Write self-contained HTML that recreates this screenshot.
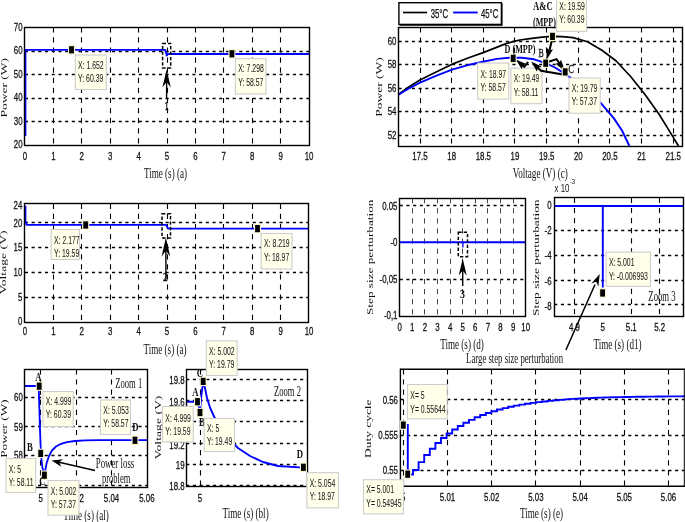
<!DOCTYPE html><html><head><meta charset="utf-8"><style>html,body{margin:0;padding:0;background:#fff;overflow:hidden}svg{display:block;filter:blur(0.3px)}</style></head><body>
<svg width="685" height="522" viewBox="0 0 685 522">
<rect width="685" height="522" fill="#fff"/>
<line x1="24.9" y1="121.5" x2="309.2" y2="121.5" stroke="#000" stroke-width="1.3" stroke-dasharray="3.1,3.6" stroke-linecap="butt"/>
<line x1="24.9" y1="98.5" x2="309.2" y2="98.5" stroke="#000" stroke-width="1.3" stroke-dasharray="3.1,3.6" stroke-linecap="butt"/>
<line x1="24.9" y1="74.5" x2="309.2" y2="74.5" stroke="#000" stroke-width="1.3" stroke-dasharray="3.1,3.6" stroke-linecap="butt"/>
<line x1="24.9" y1="51.5" x2="309.2" y2="51.5" stroke="#000" stroke-width="1.3" stroke-dasharray="3.1,3.6" stroke-linecap="butt"/>
<line x1="53.5" y1="27.2" x2="53.5" y2="145.7" stroke="#000" stroke-width="1.1" stroke-dasharray="5.2,4.9" stroke-linecap="butt"/>
<line x1="81.5" y1="27.2" x2="81.5" y2="145.7" stroke="#000" stroke-width="1.1" stroke-dasharray="5.2,4.9" stroke-linecap="butt"/>
<line x1="110.5" y1="27.2" x2="110.5" y2="145.7" stroke="#000" stroke-width="1.1" stroke-dasharray="5.2,4.9" stroke-linecap="butt"/>
<line x1="138.5" y1="27.2" x2="138.5" y2="145.7" stroke="#000" stroke-width="1.1" stroke-dasharray="5.2,4.9" stroke-linecap="butt"/>
<line x1="167.5" y1="27.2" x2="167.5" y2="145.7" stroke="#000" stroke-width="1.1" stroke-dasharray="5.2,4.9" stroke-linecap="butt"/>
<line x1="195.5" y1="27.2" x2="195.5" y2="145.7" stroke="#000" stroke-width="1.1" stroke-dasharray="5.2,4.9" stroke-linecap="butt"/>
<line x1="223.5" y1="27.2" x2="223.5" y2="145.7" stroke="#000" stroke-width="1.1" stroke-dasharray="5.2,4.9" stroke-linecap="butt"/>
<line x1="252.5" y1="27.2" x2="252.5" y2="145.7" stroke="#000" stroke-width="1.1" stroke-dasharray="5.2,4.9" stroke-linecap="butt"/>
<line x1="280.5" y1="27.2" x2="280.5" y2="145.7" stroke="#000" stroke-width="1.1" stroke-dasharray="5.2,4.9" stroke-linecap="butt"/>
<polyline points="25.4,136 25.4,49.9 165.2,49.9 166.8,55.6 167.8,54 309.2,54" fill="none" stroke="#0000ff" stroke-width="1.9" stroke-linejoin="round"/>
<rect x="24.5" y="27.5" width="285" height="118" fill="none" stroke="#000" stroke-width="1.4"/>
<text x="22.6" y="148.19" font-family='"Liberation Sans", sans-serif' font-size="11.8" font-weight="normal" text-anchor="end" fill="#111" stroke="#111" stroke-width="0.3" textLength="8.75" lengthAdjust="spacingAndGlyphs">20</text>
<text x="22.6" y="124.69" font-family='"Liberation Sans", sans-serif' font-size="11.8" font-weight="normal" text-anchor="end" fill="#111" stroke="#111" stroke-width="0.3" textLength="8.75" lengthAdjust="spacingAndGlyphs">30</text>
<text x="22.6" y="101.19" font-family='"Liberation Sans", sans-serif' font-size="11.8" font-weight="normal" text-anchor="end" fill="#111" stroke="#111" stroke-width="0.3" textLength="8.75" lengthAdjust="spacingAndGlyphs">40</text>
<text x="22.6" y="77.69" font-family='"Liberation Sans", sans-serif' font-size="11.8" font-weight="normal" text-anchor="end" fill="#111" stroke="#111" stroke-width="0.3" textLength="8.75" lengthAdjust="spacingAndGlyphs">50</text>
<text x="22.6" y="54.19" font-family='"Liberation Sans", sans-serif' font-size="11.8" font-weight="normal" text-anchor="end" fill="#111" stroke="#111" stroke-width="0.3" textLength="8.75" lengthAdjust="spacingAndGlyphs">60</text>
<text x="22.6" y="30.69" font-family='"Liberation Sans", sans-serif' font-size="11.8" font-weight="normal" text-anchor="end" fill="#111" stroke="#111" stroke-width="0.3" textLength="8.75" lengthAdjust="spacingAndGlyphs">70</text>
<text x="25" y="160.39" font-family='"Liberation Sans", sans-serif' font-size="11.8" font-weight="normal" text-anchor="middle" fill="#111" stroke="#111" stroke-width="0.3" textLength="4.38" lengthAdjust="spacingAndGlyphs">0</text>
<text x="53.4" y="160.39" font-family='"Liberation Sans", sans-serif' font-size="11.8" font-weight="normal" text-anchor="middle" fill="#111" stroke="#111" stroke-width="0.3" textLength="4.38" lengthAdjust="spacingAndGlyphs">1</text>
<text x="81.8" y="160.39" font-family='"Liberation Sans", sans-serif' font-size="11.8" font-weight="normal" text-anchor="middle" fill="#111" stroke="#111" stroke-width="0.3" textLength="4.38" lengthAdjust="spacingAndGlyphs">2</text>
<text x="110.2" y="160.39" font-family='"Liberation Sans", sans-serif' font-size="11.8" font-weight="normal" text-anchor="middle" fill="#111" stroke="#111" stroke-width="0.3" textLength="4.38" lengthAdjust="spacingAndGlyphs">3</text>
<text x="138.6" y="160.39" font-family='"Liberation Sans", sans-serif' font-size="11.8" font-weight="normal" text-anchor="middle" fill="#111" stroke="#111" stroke-width="0.3" textLength="4.38" lengthAdjust="spacingAndGlyphs">4</text>
<text x="167" y="160.39" font-family='"Liberation Sans", sans-serif' font-size="11.8" font-weight="normal" text-anchor="middle" fill="#111" stroke="#111" stroke-width="0.3" textLength="4.38" lengthAdjust="spacingAndGlyphs">5</text>
<text x="195.4" y="160.39" font-family='"Liberation Sans", sans-serif' font-size="11.8" font-weight="normal" text-anchor="middle" fill="#111" stroke="#111" stroke-width="0.3" textLength="4.38" lengthAdjust="spacingAndGlyphs">6</text>
<text x="223.8" y="160.39" font-family='"Liberation Sans", sans-serif' font-size="11.8" font-weight="normal" text-anchor="middle" fill="#111" stroke="#111" stroke-width="0.3" textLength="4.38" lengthAdjust="spacingAndGlyphs">7</text>
<text x="252.2" y="160.39" font-family='"Liberation Sans", sans-serif' font-size="11.8" font-weight="normal" text-anchor="middle" fill="#111" stroke="#111" stroke-width="0.3" textLength="4.38" lengthAdjust="spacingAndGlyphs">8</text>
<text x="280.6" y="160.39" font-family='"Liberation Sans", sans-serif' font-size="11.8" font-weight="normal" text-anchor="middle" fill="#111" stroke="#111" stroke-width="0.3" textLength="4.38" lengthAdjust="spacingAndGlyphs">9</text>
<text x="309" y="160.39" font-family='"Liberation Sans", sans-serif' font-size="11.8" font-weight="normal" text-anchor="middle" fill="#111" stroke="#111" stroke-width="0.3" textLength="8.75" lengthAdjust="spacingAndGlyphs">10</text>
<text x="0" y="0" font-family='"Liberation Serif", serif' font-size="13" font-weight="normal" text-anchor="middle" fill="#111" textLength="59.6" lengthAdjust="spacingAndGlyphs" transform="translate(7.3 87.7) rotate(-90) scale(1 0.67)">Power (W)</text>
<text x="165.5" y="178" font-family='"Liberation Serif", serif' font-size="14" font-weight="normal" text-anchor="middle" fill="#111" textLength="43.14" lengthAdjust="spacingAndGlyphs">Time (s) (a)</text>
<rect x="68" y="45.1" width="7" height="9.4" fill="#f7f4cc" stroke="none" stroke-width="1"/>
<rect x="69.1" y="46.2" width="4.8" height="7.2" fill="#000" stroke="none" stroke-width="1"/>
<rect x="75.3" y="55" width="31" height="34.5" fill="#ffffea" stroke="#cdcdcd" stroke-width="1.1"/>
<text x="78.1" y="69.25" font-family='"Liberation Sans", sans-serif' font-size="10.3" font-weight="normal" text-anchor="start" fill="#1a1a1a" stroke="#1a1a1a" stroke-width="0.05" textLength="25.59" lengthAdjust="spacingAndGlyphs">X: 1.652</text>
<text x="78.1" y="81.75" font-family='"Liberation Sans", sans-serif' font-size="10.3" font-weight="normal" text-anchor="start" fill="#1a1a1a" stroke="#1a1a1a" stroke-width="0.05" textLength="25.21" lengthAdjust="spacingAndGlyphs">Y: 60.39</text>
<rect x="228.4" y="49.1" width="7" height="9.4" fill="#f7f4cc" stroke="none" stroke-width="1"/>
<rect x="229.5" y="50.2" width="4.8" height="7.2" fill="#000" stroke="none" stroke-width="1"/>
<rect x="235.4" y="58.6" width="30.6" height="35.4" fill="#ffffea" stroke="#cdcdcd" stroke-width="1.1"/>
<text x="238.2" y="72.45" font-family='"Liberation Sans", sans-serif' font-size="10.3" font-weight="normal" text-anchor="start" fill="#1a1a1a" stroke="#1a1a1a" stroke-width="0.05" textLength="25.59" lengthAdjust="spacingAndGlyphs">X: 7.298</text>
<text x="238.2" y="85.75" font-family='"Liberation Sans", sans-serif' font-size="10.3" font-weight="normal" text-anchor="start" fill="#1a1a1a" stroke="#1a1a1a" stroke-width="0.05" textLength="25.21" lengthAdjust="spacingAndGlyphs">Y: 58.57</text>
<rect x="162.6" y="43.4" width="8.1" height="24.6" fill="none" stroke="#000" stroke-width="1.5" stroke-dasharray="3.4,2.0"/>
<line x1="166.6" y1="98.6" x2="166.6" y2="80" stroke="#000" stroke-width="1.4" stroke-linecap="butt"/>
<path d="M166.6,69.5 L170.8,87.5 L166.6,82.1 L162.4,87.5 Z" fill="#000"/>
<text x="166.7" y="109.8" font-family='"Liberation Serif", serif' font-size="12.5" font-weight="normal" text-anchor="middle" fill="#111" stroke="#111" stroke-width="0.4" textLength="4.2" lengthAdjust="spacingAndGlyphs">1</text>
<line x1="24.9" y1="297.5" x2="308.9" y2="297.5" stroke="#000" stroke-width="1.3" stroke-dasharray="3.1,3.6" stroke-linecap="butt"/>
<line x1="24.9" y1="272.5" x2="308.9" y2="272.5" stroke="#000" stroke-width="1.3" stroke-dasharray="3.1,3.6" stroke-linecap="butt"/>
<line x1="24.9" y1="247.5" x2="308.9" y2="247.5" stroke="#000" stroke-width="1.3" stroke-dasharray="3.1,3.6" stroke-linecap="butt"/>
<line x1="24.9" y1="222.5" x2="308.9" y2="222.5" stroke="#000" stroke-width="1.3" stroke-dasharray="3.1,3.6" stroke-linecap="butt"/>
<line x1="53.5" y1="203.7" x2="53.5" y2="322" stroke="#000" stroke-width="1.1" stroke-dasharray="5.2,4.9" stroke-linecap="butt"/>
<line x1="81.5" y1="203.7" x2="81.5" y2="322" stroke="#000" stroke-width="1.1" stroke-dasharray="5.2,4.9" stroke-linecap="butt"/>
<line x1="110.5" y1="203.7" x2="110.5" y2="322" stroke="#000" stroke-width="1.1" stroke-dasharray="5.2,4.9" stroke-linecap="butt"/>
<line x1="138.5" y1="203.7" x2="138.5" y2="322" stroke="#000" stroke-width="1.1" stroke-dasharray="5.2,4.9" stroke-linecap="butt"/>
<line x1="167.5" y1="203.7" x2="167.5" y2="322" stroke="#000" stroke-width="1.1" stroke-dasharray="5.2,4.9" stroke-linecap="butt"/>
<line x1="195.5" y1="203.7" x2="195.5" y2="322" stroke="#000" stroke-width="1.1" stroke-dasharray="5.2,4.9" stroke-linecap="butt"/>
<line x1="223.5" y1="203.7" x2="223.5" y2="322" stroke="#000" stroke-width="1.1" stroke-dasharray="5.2,4.9" stroke-linecap="butt"/>
<line x1="252.5" y1="203.7" x2="252.5" y2="322" stroke="#000" stroke-width="1.1" stroke-dasharray="5.2,4.9" stroke-linecap="butt"/>
<line x1="280.5" y1="203.7" x2="280.5" y2="322" stroke="#000" stroke-width="1.1" stroke-dasharray="5.2,4.9" stroke-linecap="butt"/>
<polyline points="25.4,205.7 25.4,221 26.5,224.85 166.15,224.85 168.14,228.6 308.9,228.6" fill="none" stroke="#0000ff" stroke-width="1.9" stroke-linejoin="round"/>
<rect x="24.5" y="203.5" width="284" height="119" fill="none" stroke="#000" stroke-width="1.4"/>
<text x="22.3" y="324.79" font-family='"Liberation Sans", sans-serif' font-size="11.8" font-weight="normal" text-anchor="end" fill="#111" stroke="#111" stroke-width="0.3" textLength="4.38" lengthAdjust="spacingAndGlyphs">0</text>
<text x="22.3" y="301.19" font-family='"Liberation Sans", sans-serif' font-size="11.8" font-weight="normal" text-anchor="end" fill="#111" stroke="#111" stroke-width="0.3" textLength="4.38" lengthAdjust="spacingAndGlyphs">5</text>
<text x="22.3" y="276.49" font-family='"Liberation Sans", sans-serif' font-size="11.8" font-weight="normal" text-anchor="end" fill="#111" stroke="#111" stroke-width="0.3" textLength="8.75" lengthAdjust="spacingAndGlyphs">10</text>
<text x="22.3" y="250.99" font-family='"Liberation Sans", sans-serif' font-size="11.8" font-weight="normal" text-anchor="end" fill="#111" stroke="#111" stroke-width="0.3" textLength="8.75" lengthAdjust="spacingAndGlyphs">15</text>
<text x="22.3" y="227.39" font-family='"Liberation Sans", sans-serif' font-size="11.8" font-weight="normal" text-anchor="end" fill="#111" stroke="#111" stroke-width="0.3" textLength="8.75" lengthAdjust="spacingAndGlyphs">20</text>
<text x="22.3" y="208.59" font-family='"Liberation Sans", sans-serif' font-size="11.8" font-weight="normal" text-anchor="end" fill="#111" stroke="#111" stroke-width="0.3" textLength="8.75" lengthAdjust="spacingAndGlyphs">24</text>
<text x="25" y="335.39" font-family='"Liberation Sans", sans-serif' font-size="11.8" font-weight="normal" text-anchor="middle" fill="#111" stroke="#111" stroke-width="0.3" textLength="4.38" lengthAdjust="spacingAndGlyphs">0</text>
<text x="53.4" y="335.39" font-family='"Liberation Sans", sans-serif' font-size="11.8" font-weight="normal" text-anchor="middle" fill="#111" stroke="#111" stroke-width="0.3" textLength="4.38" lengthAdjust="spacingAndGlyphs">1</text>
<text x="81.8" y="335.39" font-family='"Liberation Sans", sans-serif' font-size="11.8" font-weight="normal" text-anchor="middle" fill="#111" stroke="#111" stroke-width="0.3" textLength="4.38" lengthAdjust="spacingAndGlyphs">2</text>
<text x="110.2" y="335.39" font-family='"Liberation Sans", sans-serif' font-size="11.8" font-weight="normal" text-anchor="middle" fill="#111" stroke="#111" stroke-width="0.3" textLength="4.38" lengthAdjust="spacingAndGlyphs">3</text>
<text x="138.6" y="335.39" font-family='"Liberation Sans", sans-serif' font-size="11.8" font-weight="normal" text-anchor="middle" fill="#111" stroke="#111" stroke-width="0.3" textLength="4.38" lengthAdjust="spacingAndGlyphs">4</text>
<text x="167" y="335.39" font-family='"Liberation Sans", sans-serif' font-size="11.8" font-weight="normal" text-anchor="middle" fill="#111" stroke="#111" stroke-width="0.3" textLength="4.38" lengthAdjust="spacingAndGlyphs">5</text>
<text x="195.4" y="335.39" font-family='"Liberation Sans", sans-serif' font-size="11.8" font-weight="normal" text-anchor="middle" fill="#111" stroke="#111" stroke-width="0.3" textLength="4.38" lengthAdjust="spacingAndGlyphs">6</text>
<text x="223.8" y="335.39" font-family='"Liberation Sans", sans-serif' font-size="11.8" font-weight="normal" text-anchor="middle" fill="#111" stroke="#111" stroke-width="0.3" textLength="4.38" lengthAdjust="spacingAndGlyphs">7</text>
<text x="252.2" y="335.39" font-family='"Liberation Sans", sans-serif' font-size="11.8" font-weight="normal" text-anchor="middle" fill="#111" stroke="#111" stroke-width="0.3" textLength="4.38" lengthAdjust="spacingAndGlyphs">8</text>
<text x="280.6" y="335.39" font-family='"Liberation Sans", sans-serif' font-size="11.8" font-weight="normal" text-anchor="middle" fill="#111" stroke="#111" stroke-width="0.3" textLength="4.38" lengthAdjust="spacingAndGlyphs">9</text>
<text x="309" y="335.39" font-family='"Liberation Sans", sans-serif' font-size="11.8" font-weight="normal" text-anchor="middle" fill="#111" stroke="#111" stroke-width="0.3" textLength="8.75" lengthAdjust="spacingAndGlyphs">10</text>
<text x="0" y="0" font-family='"Liberation Serif", serif' font-size="13" font-weight="normal" text-anchor="middle" fill="#111" textLength="64" lengthAdjust="spacingAndGlyphs" transform="translate(6 262.4) rotate(-90) scale(1 0.67)">Voltage (V)</text>
<text x="165" y="353.5" font-family='"Liberation Serif", serif' font-size="14" font-weight="normal" text-anchor="middle" fill="#111" textLength="43.14" lengthAdjust="spacingAndGlyphs">Time (s) (a)</text>
<rect x="82.2" y="220.3" width="7" height="9.4" fill="#f7f4cc" stroke="none" stroke-width="1"/>
<rect x="83.3" y="221.4" width="4.8" height="7.2" fill="#000" stroke="none" stroke-width="1"/>
<rect x="51.2" y="229.5" width="28.3" height="30" fill="#ffffea" stroke="#cdcdcd" stroke-width="1.1"/>
<text x="54" y="243.75" font-family='"Liberation Sans", sans-serif' font-size="10.3" font-weight="normal" text-anchor="start" fill="#1a1a1a" stroke="#1a1a1a" stroke-width="0.05" textLength="25.59" lengthAdjust="spacingAndGlyphs">X: 2.177</text>
<text x="54" y="256.75" font-family='"Liberation Sans", sans-serif' font-size="10.3" font-weight="normal" text-anchor="start" fill="#1a1a1a" stroke="#1a1a1a" stroke-width="0.05" textLength="25.21" lengthAdjust="spacingAndGlyphs">Y: 19.59</text>
<rect x="254" y="223.9" width="7" height="9.4" fill="#f7f4cc" stroke="none" stroke-width="1"/>
<rect x="255.1" y="225" width="4.8" height="7.2" fill="#000" stroke="none" stroke-width="1"/>
<rect x="261.2" y="233.5" width="30.8" height="35.5" fill="#ffffea" stroke="#cdcdcd" stroke-width="1.1"/>
<text x="264" y="247.45" font-family='"Liberation Sans", sans-serif' font-size="10.3" font-weight="normal" text-anchor="start" fill="#1a1a1a" stroke="#1a1a1a" stroke-width="0.05" textLength="25.59" lengthAdjust="spacingAndGlyphs">X: 8.219</text>
<text x="264" y="261.25" font-family='"Liberation Sans", sans-serif' font-size="10.3" font-weight="normal" text-anchor="start" fill="#1a1a1a" stroke="#1a1a1a" stroke-width="0.05" textLength="25.21" lengthAdjust="spacingAndGlyphs">Y: 18.97</text>
<rect x="162" y="213.7" width="8.5" height="24.3" fill="none" stroke="#000" stroke-width="1.5" stroke-dasharray="3.4,2.0"/>
<line x1="165.9" y1="280" x2="165.9" y2="250" stroke="#000" stroke-width="1.4" stroke-linecap="butt"/>
<path d="M165.9,237.5 L170.2,256.5 L165.9,250.8 L161.6,256.5 Z" fill="#000"/>
<text x="165.3" y="281" font-family='"Liberation Serif", serif' font-size="12.5" font-weight="normal" text-anchor="middle" fill="#111" stroke="#111" stroke-width="0.3" textLength="4.6" lengthAdjust="spacingAndGlyphs">2</text>
<line x1="24.6" y1="455.5" x2="147" y2="455.5" stroke="#000" stroke-width="1.3" stroke-dasharray="3.1,3.6" stroke-linecap="butt"/>
<line x1="24.6" y1="426.5" x2="147" y2="426.5" stroke="#000" stroke-width="1.3" stroke-dasharray="3.1,3.6" stroke-linecap="butt"/>
<line x1="24.6" y1="397.5" x2="147" y2="397.5" stroke="#000" stroke-width="1.3" stroke-dasharray="3.1,3.6" stroke-linecap="butt"/>
<line x1="24.6" y1="485.5" x2="147" y2="485.5" stroke="#000" stroke-width="1.3" stroke-dasharray="3.1,3.6" stroke-linecap="butt"/>
<line x1="40.5" y1="369.3" x2="40.5" y2="487" stroke="#000" stroke-width="1.1" stroke-dasharray="5.2,4.9" stroke-linecap="butt"/>
<line x1="76.5" y1="369.3" x2="76.5" y2="487" stroke="#000" stroke-width="1.1" stroke-dasharray="5.2,4.9" stroke-linecap="butt"/>
<line x1="111.5" y1="369.3" x2="111.5" y2="487" stroke="#000" stroke-width="1.1" stroke-dasharray="5.2,4.9" stroke-linecap="butt"/>
<polyline points="24.6,386 38.7,386 40,430 41,455 42.3,467 44,474.5 45.3,470 46.8,462.5 49,456 52,450.5 56,446.5 61,443.8 67,442.2 75,441 85,440.4 100,440.2 147,440.2" fill="none" stroke="#0000ff" stroke-width="1.8" stroke-linejoin="round"/>
<rect x="24.5" y="369.5" width="123" height="118" fill="none" stroke="#000" stroke-width="1.4"/>
<text x="22.8" y="458.79" font-family='"Liberation Sans", sans-serif' font-size="11.8" font-weight="normal" text-anchor="end" fill="#111" stroke="#111" stroke-width="0.3" textLength="8.75" lengthAdjust="spacingAndGlyphs">58</text>
<text x="22.8" y="431.39" font-family='"Liberation Sans", sans-serif' font-size="11.8" font-weight="normal" text-anchor="end" fill="#111" stroke="#111" stroke-width="0.3" textLength="8.75" lengthAdjust="spacingAndGlyphs">59</text>
<text x="22.8" y="400.99" font-family='"Liberation Sans", sans-serif' font-size="11.8" font-weight="normal" text-anchor="end" fill="#111" stroke="#111" stroke-width="0.3" textLength="8.75" lengthAdjust="spacingAndGlyphs">60</text>
<text x="40.7" y="502.19" font-family='"Liberation Sans", sans-serif' font-size="11.8" font-weight="normal" text-anchor="middle" fill="#111" stroke="#111" stroke-width="0.3" textLength="4.38" lengthAdjust="spacingAndGlyphs">5</text>
<text x="76.1" y="502.19" font-family='"Liberation Sans", sans-serif' font-size="11.8" font-weight="normal" text-anchor="middle" fill="#111" stroke="#111" stroke-width="0.3" textLength="15.32" lengthAdjust="spacingAndGlyphs">5.02</text>
<text x="111.5" y="502.19" font-family='"Liberation Sans", sans-serif' font-size="11.8" font-weight="normal" text-anchor="middle" fill="#111" stroke="#111" stroke-width="0.3" textLength="15.32" lengthAdjust="spacingAndGlyphs">5.04</text>
<text x="146.9" y="502.19" font-family='"Liberation Sans", sans-serif' font-size="11.8" font-weight="normal" text-anchor="middle" fill="#111" stroke="#111" stroke-width="0.3" textLength="15.32" lengthAdjust="spacingAndGlyphs">5.06</text>
<text x="0" y="0" font-family='"Liberation Serif", serif' font-size="13" font-weight="normal" text-anchor="middle" fill="#111" textLength="58.5" lengthAdjust="spacingAndGlyphs" transform="translate(6.9 428.6) rotate(-90) scale(1 0.67)">Power (W)</text>
<text x="86" y="519.5" font-family='"Liberation Serif", serif' font-size="14" font-weight="normal" text-anchor="middle" fill="#111" textLength="45.66" lengthAdjust="spacingAndGlyphs">Time (s) (al)</text>
<text x="115.3" y="387.5" font-family='"Liberation Serif", serif' font-size="14" font-weight="normal" text-anchor="start" fill="#111" textLength="26.9" lengthAdjust="spacingAndGlyphs">Zoom 1</text>
<rect x="35.7" y="381.5" width="7" height="9.4" fill="#f7f4cc" stroke="none" stroke-width="1"/>
<rect x="36.8" y="382.6" width="4.8" height="7.2" fill="#000" stroke="none" stroke-width="1"/>
<rect x="37.2" y="448.7" width="7" height="9.4" fill="#f7f4cc" stroke="none" stroke-width="1"/>
<rect x="38.3" y="449.8" width="4.8" height="7.2" fill="#000" stroke="none" stroke-width="1"/>
<rect x="40.9" y="470.5" width="7" height="9.4" fill="#f7f4cc" stroke="none" stroke-width="1"/>
<rect x="42" y="471.6" width="4.8" height="7.2" fill="#000" stroke="none" stroke-width="1"/>
<rect x="131.5" y="435.6" width="7" height="9.4" fill="#f7f4cc" stroke="none" stroke-width="1"/>
<rect x="132.6" y="436.7" width="4.8" height="7.2" fill="#000" stroke="none" stroke-width="1"/>
<text x="38.5" y="381.3" font-family='"Liberation Serif", serif' font-size="13" font-weight="bold" text-anchor="middle" fill="#111" textLength="6.26" lengthAdjust="spacingAndGlyphs">A</text>
<text x="30" y="451.2" font-family='"Liberation Serif", serif' font-size="13" font-weight="bold" text-anchor="middle" fill="#111" textLength="5.78" lengthAdjust="spacingAndGlyphs">B</text>
<text x="42.5" y="485.2" font-family='"Liberation Serif", serif' font-size="13" font-weight="bold" text-anchor="middle" fill="#111" textLength="6.26" lengthAdjust="spacingAndGlyphs">C</text>
<text x="135.5" y="431.2" font-family='"Liberation Serif", serif' font-size="13" font-weight="bold" text-anchor="middle" fill="#111" textLength="6.26" lengthAdjust="spacingAndGlyphs">D</text>
<rect x="43" y="391.5" width="30.2" height="35" fill="#ffffea" stroke="#cdcdcd" stroke-width="1.1"/>
<text x="45.8" y="404.75" font-family='"Liberation Sans", sans-serif' font-size="10.3" font-weight="normal" text-anchor="start" fill="#1a1a1a" stroke="#1a1a1a" stroke-width="0.05" textLength="25.59" lengthAdjust="spacingAndGlyphs">X: 4.999</text>
<text x="45.8" y="418.25" font-family='"Liberation Sans", sans-serif' font-size="10.3" font-weight="normal" text-anchor="start" fill="#1a1a1a" stroke="#1a1a1a" stroke-width="0.05" textLength="25.21" lengthAdjust="spacingAndGlyphs">Y: 60.39</text>
<rect x="100.5" y="400" width="30" height="34.5" fill="#ffffea" stroke="#cdcdcd" stroke-width="1.1"/>
<text x="103.3" y="413.75" font-family='"Liberation Sans", sans-serif' font-size="10.3" font-weight="normal" text-anchor="start" fill="#1a1a1a" stroke="#1a1a1a" stroke-width="0.05" textLength="25.59" lengthAdjust="spacingAndGlyphs">X: 5.053</text>
<text x="103.3" y="426.75" font-family='"Liberation Sans", sans-serif' font-size="10.3" font-weight="normal" text-anchor="start" fill="#1a1a1a" stroke="#1a1a1a" stroke-width="0.05" textLength="25.21" lengthAdjust="spacingAndGlyphs">Y: 58.57</text>
<rect x="6" y="458.5" width="29.7" height="34" fill="#ffffea" stroke="#cdcdcd" stroke-width="1.1"/>
<text x="8.8" y="472.75" font-family='"Liberation Sans", sans-serif' font-size="10.3" font-weight="normal" text-anchor="start" fill="#1a1a1a" stroke="#1a1a1a" stroke-width="0.05" textLength="12.22" lengthAdjust="spacingAndGlyphs">X: 5</text>
<text x="8.8" y="485.75" font-family='"Liberation Sans", sans-serif' font-size="10.3" font-weight="normal" text-anchor="start" fill="#1a1a1a" stroke="#1a1a1a" stroke-width="0.05" textLength="24.7" lengthAdjust="spacingAndGlyphs">Y: 58.11</text>
<rect x="48" y="480.5" width="31" height="34.7" fill="#ffffea" stroke="#cdcdcd" stroke-width="1.1"/>
<text x="50.8" y="494.75" font-family='"Liberation Sans", sans-serif' font-size="10.3" font-weight="normal" text-anchor="start" fill="#1a1a1a" stroke="#1a1a1a" stroke-width="0.05" textLength="25.59" lengthAdjust="spacingAndGlyphs">X: 5.002</text>
<text x="50.8" y="508.25" font-family='"Liberation Sans", sans-serif' font-size="10.3" font-weight="normal" text-anchor="start" fill="#1a1a1a" stroke="#1a1a1a" stroke-width="0.05" textLength="25.21" lengthAdjust="spacingAndGlyphs">Y: 57.37</text>
<text x="115" y="467.5" font-family='"Liberation Serif", serif' font-size="14" font-weight="normal" text-anchor="middle" fill="#111" textLength="38.5" lengthAdjust="spacingAndGlyphs">Power loss</text>
<text x="116.2" y="482.8" font-family='"Liberation Serif", serif' font-size="14" font-weight="normal" text-anchor="middle" fill="#111" textLength="28.5" lengthAdjust="spacingAndGlyphs">problem</text>
<line x1="95" y1="470.5" x2="58" y2="462" stroke="#000" stroke-width="1.6" stroke-linecap="butt"/>
<path d="M51.5,460.5 L63.07,459.26 L59,462.23 L61.37,466.67 Z" fill="#000"/>
<line x1="186.2" y1="464.5" x2="307.4" y2="464.5" stroke="#000" stroke-width="1.3" stroke-dasharray="3.1,3.6" stroke-linecap="butt"/>
<line x1="186.2" y1="443.5" x2="307.4" y2="443.5" stroke="#000" stroke-width="1.3" stroke-dasharray="3.1,3.6" stroke-linecap="butt"/>
<line x1="186.2" y1="421.5" x2="307.4" y2="421.5" stroke="#000" stroke-width="1.3" stroke-dasharray="3.1,3.6" stroke-linecap="butt"/>
<line x1="186.2" y1="400.5" x2="307.4" y2="400.5" stroke="#000" stroke-width="1.3" stroke-dasharray="3.1,3.6" stroke-linecap="butt"/>
<line x1="186.2" y1="379.5" x2="307.4" y2="379.5" stroke="#000" stroke-width="1.3" stroke-dasharray="3.1,3.6" stroke-linecap="butt"/>
<line x1="186.2" y1="485.5" x2="307.4" y2="485.5" stroke="#000" stroke-width="1.3" stroke-dasharray="3.1,3.6" stroke-linecap="butt"/>
<line x1="200.5" y1="369.3" x2="200.5" y2="486.5" stroke="#000" stroke-width="1.1" stroke-dasharray="5.2,4.9" stroke-linecap="butt"/>
<polyline points="186.2,401.7 197.5,401.7 199.2,408 200,412.5 201.3,396 203.2,381.5 205,388 207,398 210,407.5 214,416.5 220,427 228,438 238,448 250,456 263,462 278,466 303,467.6" fill="none" stroke="#0000ff" stroke-width="1.9" stroke-linejoin="round"/>
<rect x="186.5" y="369.5" width="121" height="117" fill="none" stroke="#000" stroke-width="1.4"/>
<text x="184.6" y="489.59" font-family='"Liberation Sans", sans-serif' font-size="11.8" font-weight="normal" text-anchor="end" fill="#111" stroke="#111" stroke-width="0.3" textLength="15.32" lengthAdjust="spacingAndGlyphs">18.8</text>
<text x="184.6" y="468.69" font-family='"Liberation Sans", sans-serif' font-size="11.8" font-weight="normal" text-anchor="end" fill="#111" stroke="#111" stroke-width="0.3" textLength="8.75" lengthAdjust="spacingAndGlyphs">19</text>
<text x="184.6" y="449.39" font-family='"Liberation Sans", sans-serif' font-size="11.8" font-weight="normal" text-anchor="end" fill="#111" stroke="#111" stroke-width="0.3" textLength="15.32" lengthAdjust="spacingAndGlyphs">19.2</text>
<text x="184.6" y="426.69" font-family='"Liberation Sans", sans-serif' font-size="11.8" font-weight="normal" text-anchor="end" fill="#111" stroke="#111" stroke-width="0.3" textLength="15.32" lengthAdjust="spacingAndGlyphs">19.4</text>
<text x="184.6" y="405.69" font-family='"Liberation Sans", sans-serif' font-size="11.8" font-weight="normal" text-anchor="end" fill="#111" stroke="#111" stroke-width="0.3" textLength="15.32" lengthAdjust="spacingAndGlyphs">19.6</text>
<text x="184.6" y="384.29" font-family='"Liberation Sans", sans-serif' font-size="11.8" font-weight="normal" text-anchor="end" fill="#111" stroke="#111" stroke-width="0.3" textLength="15.32" lengthAdjust="spacingAndGlyphs">19.8</text>
<text x="200" y="502.19" font-family='"Liberation Sans", sans-serif' font-size="11.8" font-weight="normal" text-anchor="middle" fill="#111" stroke="#111" stroke-width="0.3" textLength="4.38" lengthAdjust="spacingAndGlyphs">5</text>
<text x="0" y="0" font-family='"Liberation Serif", serif' font-size="13" font-weight="normal" text-anchor="middle" fill="#111" textLength="64" lengthAdjust="spacingAndGlyphs" transform="translate(161 427.6) rotate(-90) scale(1 0.67)">Voltage (V)</text>
<text x="245.6" y="518" font-family='"Liberation Serif", serif' font-size="14" font-weight="normal" text-anchor="middle" fill="#111" textLength="46.18" lengthAdjust="spacingAndGlyphs">Time (s) (bl)</text>
<text x="274" y="395.8" font-family='"Liberation Serif", serif' font-size="14" font-weight="normal" text-anchor="start" fill="#111" textLength="27" lengthAdjust="spacingAndGlyphs">Zoom 2</text>
<rect x="194" y="397" width="7" height="9.4" fill="#f7f4cc" stroke="none" stroke-width="1"/>
<rect x="195.1" y="398.1" width="4.8" height="7.2" fill="#000" stroke="none" stroke-width="1"/>
<rect x="196.5" y="407.8" width="7" height="9.4" fill="#f7f4cc" stroke="none" stroke-width="1"/>
<rect x="197.6" y="408.9" width="4.8" height="7.2" fill="#000" stroke="none" stroke-width="1"/>
<rect x="199.7" y="376.7" width="7" height="9.4" fill="#f7f4cc" stroke="none" stroke-width="1"/>
<rect x="200.8" y="377.8" width="4.8" height="7.2" fill="#000" stroke="none" stroke-width="1"/>
<rect x="299.9" y="462.6" width="7" height="9.4" fill="#f7f4cc" stroke="none" stroke-width="1"/>
<rect x="301" y="463.7" width="4.8" height="7.2" fill="#000" stroke="none" stroke-width="1"/>
<text x="200" y="377" font-family='"Liberation Serif", serif' font-size="13" font-weight="bold" text-anchor="middle" fill="#111" textLength="6.26" lengthAdjust="spacingAndGlyphs">C</text>
<text x="195.5" y="396.3" font-family='"Liberation Serif", serif' font-size="13" font-weight="bold" text-anchor="middle" fill="#111" textLength="6.26" lengthAdjust="spacingAndGlyphs">A</text>
<text x="202" y="425.8" font-family='"Liberation Serif", serif' font-size="13" font-weight="bold" text-anchor="middle" fill="#111" textLength="5.78" lengthAdjust="spacingAndGlyphs">B</text>
<text x="300" y="458.3" font-family='"Liberation Serif", serif' font-size="13" font-weight="bold" text-anchor="middle" fill="#111" textLength="6.26" lengthAdjust="spacingAndGlyphs">D</text>
<rect x="162.5" y="406.5" width="30.7" height="35.5" fill="#ffffea" stroke="#cdcdcd" stroke-width="1.1"/>
<text x="165.3" y="421.75" font-family='"Liberation Sans", sans-serif' font-size="10.3" font-weight="normal" text-anchor="start" fill="#1a1a1a" stroke="#1a1a1a" stroke-width="0.05" textLength="25.59" lengthAdjust="spacingAndGlyphs">X: 4.999</text>
<text x="165.3" y="434.75" font-family='"Liberation Sans", sans-serif' font-size="10.3" font-weight="normal" text-anchor="start" fill="#1a1a1a" stroke="#1a1a1a" stroke-width="0.05" textLength="25.21" lengthAdjust="spacingAndGlyphs">Y: 19.59</text>
<rect x="204.2" y="418.5" width="30.3" height="33" fill="#ffffea" stroke="#cdcdcd" stroke-width="1.1"/>
<text x="207" y="431.75" font-family='"Liberation Sans", sans-serif' font-size="10.3" font-weight="normal" text-anchor="start" fill="#1a1a1a" stroke="#1a1a1a" stroke-width="0.05" textLength="12.22" lengthAdjust="spacingAndGlyphs">X: 5</text>
<text x="207" y="444.75" font-family='"Liberation Sans", sans-serif' font-size="10.3" font-weight="normal" text-anchor="start" fill="#1a1a1a" stroke="#1a1a1a" stroke-width="0.05" textLength="25.21" lengthAdjust="spacingAndGlyphs">Y: 19.49</text>
<rect x="206.3" y="340.9" width="30.9" height="34.6" fill="#ffffea" stroke="#cdcdcd" stroke-width="1.1"/>
<text x="209.1" y="354.75" font-family='"Liberation Sans", sans-serif' font-size="10.3" font-weight="normal" text-anchor="start" fill="#1a1a1a" stroke="#1a1a1a" stroke-width="0.05" textLength="25.59" lengthAdjust="spacingAndGlyphs">X: 5.002</text>
<text x="209.1" y="368.15" font-family='"Liberation Sans", sans-serif' font-size="10.3" font-weight="normal" text-anchor="start" fill="#1a1a1a" stroke="#1a1a1a" stroke-width="0.05" textLength="25.21" lengthAdjust="spacingAndGlyphs">Y: 19.79</text>
<rect x="306.9" y="472.7" width="31.6" height="35.2" fill="#ffffea" stroke="#cdcdcd" stroke-width="1.1"/>
<text x="309.7" y="486.95" font-family='"Liberation Sans", sans-serif' font-size="10.3" font-weight="normal" text-anchor="start" fill="#1a1a1a" stroke="#1a1a1a" stroke-width="0.05" textLength="25.59" lengthAdjust="spacingAndGlyphs">X: 5.054</text>
<text x="309.7" y="500.05" font-family='"Liberation Sans", sans-serif' font-size="10.3" font-weight="normal" text-anchor="start" fill="#1a1a1a" stroke="#1a1a1a" stroke-width="0.05" textLength="25.21" lengthAdjust="spacingAndGlyphs">Y: 18.97</text>
<line x1="398.5" y1="135.5" x2="682.7" y2="135.5" stroke="#000" stroke-width="1.3" stroke-dasharray="3.1,3.6" stroke-linecap="butt"/>
<line x1="398.5" y1="111.5" x2="682.7" y2="111.5" stroke="#000" stroke-width="1.3" stroke-dasharray="3.1,3.6" stroke-linecap="butt"/>
<line x1="398.5" y1="88.5" x2="682.7" y2="88.5" stroke="#000" stroke-width="1.3" stroke-dasharray="3.1,3.6" stroke-linecap="butt"/>
<line x1="398.5" y1="64.5" x2="682.7" y2="64.5" stroke="#000" stroke-width="1.3" stroke-dasharray="3.1,3.6" stroke-linecap="butt"/>
<line x1="398.5" y1="41.5" x2="682.7" y2="41.5" stroke="#000" stroke-width="1.3" stroke-dasharray="3.1,3.6" stroke-linecap="butt"/>
<line x1="420.5" y1="27.3" x2="420.5" y2="146" stroke="#000" stroke-width="1.1" stroke-dasharray="5.2,4.9" stroke-linecap="butt"/>
<line x1="451.5" y1="27.3" x2="451.5" y2="146" stroke="#000" stroke-width="1.1" stroke-dasharray="5.2,4.9" stroke-linecap="butt"/>
<line x1="483.5" y1="27.3" x2="483.5" y2="146" stroke="#000" stroke-width="1.1" stroke-dasharray="5.2,4.9" stroke-linecap="butt"/>
<line x1="514.5" y1="27.3" x2="514.5" y2="146" stroke="#000" stroke-width="1.1" stroke-dasharray="5.2,4.9" stroke-linecap="butt"/>
<line x1="546.5" y1="27.3" x2="546.5" y2="146" stroke="#000" stroke-width="1.1" stroke-dasharray="5.2,4.9" stroke-linecap="butt"/>
<line x1="578.5" y1="27.3" x2="578.5" y2="146" stroke="#000" stroke-width="1.1" stroke-dasharray="5.2,4.9" stroke-linecap="butt"/>
<line x1="609.5" y1="27.3" x2="609.5" y2="146" stroke="#000" stroke-width="1.1" stroke-dasharray="5.2,4.9" stroke-linecap="butt"/>
<line x1="641.5" y1="27.3" x2="641.5" y2="146" stroke="#000" stroke-width="1.1" stroke-dasharray="5.2,4.9" stroke-linecap="butt"/>
<line x1="673.5" y1="27.3" x2="673.5" y2="146" stroke="#000" stroke-width="1.1" stroke-dasharray="5.2,4.9" stroke-linecap="butt"/>
<polyline points="398.5,94.5 408,87.5 419.5,80.2 430,75 442.3,69.1 451.7,64.4 468,58 483.2,52.6 498.4,46.6 505.4,43.9 514.8,41.1 520,40 530,38.6 540,37.4 548,36.7 555,36.4 562,36.6 573,37.6 587.5,41.8 601.9,50.2 616.2,61 630.6,76.5 645,94.5 659.4,114.8 669,130.4 678.5,146" fill="none" stroke="#000" stroke-width="1.7" stroke-linejoin="round"/>
<polyline points="398.5,94.8 408,89 419.5,82.8 435.9,75.8 452,69.6 467,65.3 482.9,61.8 497,58.9 509.4,57.8 521.7,57.7 534,59.3 545,62.9 555,67.5 565.5,74.1 580,85 590,93.5 600.7,102.9 613.9,118.4 622,130.5 629.4,146" fill="none" stroke="#0000ff" stroke-width="1.9" stroke-linejoin="round"/>
<rect x="398.5" y="27.5" width="284" height="119" fill="none" stroke="#000" stroke-width="1.4"/>
<text x="396.5" y="138.87" font-family='"Liberation Sans", sans-serif' font-size="11.8" font-weight="normal" text-anchor="end" fill="#111" stroke="#111" stroke-width="0.3" textLength="8.75" lengthAdjust="spacingAndGlyphs">52</text>
<text x="396.5" y="115.35" font-family='"Liberation Sans", sans-serif' font-size="11.8" font-weight="normal" text-anchor="end" fill="#111" stroke="#111" stroke-width="0.3" textLength="8.75" lengthAdjust="spacingAndGlyphs">54</text>
<text x="396.5" y="91.83" font-family='"Liberation Sans", sans-serif' font-size="11.8" font-weight="normal" text-anchor="end" fill="#111" stroke="#111" stroke-width="0.3" textLength="8.75" lengthAdjust="spacingAndGlyphs">56</text>
<text x="396.5" y="68.31" font-family='"Liberation Sans", sans-serif' font-size="11.8" font-weight="normal" text-anchor="end" fill="#111" stroke="#111" stroke-width="0.3" textLength="8.75" lengthAdjust="spacingAndGlyphs">58</text>
<text x="396.5" y="44.79" font-family='"Liberation Sans", sans-serif' font-size="11.8" font-weight="normal" text-anchor="end" fill="#111" stroke="#111" stroke-width="0.3" textLength="8.75" lengthAdjust="spacingAndGlyphs">60</text>
<text x="420" y="159.99" font-family='"Liberation Sans", sans-serif' font-size="11.8" font-weight="normal" text-anchor="middle" fill="#111" stroke="#111" stroke-width="0.3" textLength="15.32" lengthAdjust="spacingAndGlyphs">17.5</text>
<text x="451.65" y="159.99" font-family='"Liberation Sans", sans-serif' font-size="11.8" font-weight="normal" text-anchor="middle" fill="#111" stroke="#111" stroke-width="0.3" textLength="8.75" lengthAdjust="spacingAndGlyphs">18</text>
<text x="483.3" y="159.99" font-family='"Liberation Sans", sans-serif' font-size="11.8" font-weight="normal" text-anchor="middle" fill="#111" stroke="#111" stroke-width="0.3" textLength="15.32" lengthAdjust="spacingAndGlyphs">18.5</text>
<text x="514.95" y="159.99" font-family='"Liberation Sans", sans-serif' font-size="11.8" font-weight="normal" text-anchor="middle" fill="#111" stroke="#111" stroke-width="0.3" textLength="8.75" lengthAdjust="spacingAndGlyphs">19</text>
<text x="546.6" y="159.99" font-family='"Liberation Sans", sans-serif' font-size="11.8" font-weight="normal" text-anchor="middle" fill="#111" stroke="#111" stroke-width="0.3" textLength="15.32" lengthAdjust="spacingAndGlyphs">19.5</text>
<text x="578.25" y="159.99" font-family='"Liberation Sans", sans-serif' font-size="11.8" font-weight="normal" text-anchor="middle" fill="#111" stroke="#111" stroke-width="0.3" textLength="8.75" lengthAdjust="spacingAndGlyphs">20</text>
<text x="609.9" y="159.99" font-family='"Liberation Sans", sans-serif' font-size="11.8" font-weight="normal" text-anchor="middle" fill="#111" stroke="#111" stroke-width="0.3" textLength="15.32" lengthAdjust="spacingAndGlyphs">20.5</text>
<text x="641.55" y="159.99" font-family='"Liberation Sans", sans-serif' font-size="11.8" font-weight="normal" text-anchor="middle" fill="#111" stroke="#111" stroke-width="0.3" textLength="8.75" lengthAdjust="spacingAndGlyphs">21</text>
<text x="673.2" y="159.99" font-family='"Liberation Sans", sans-serif' font-size="11.8" font-weight="normal" text-anchor="middle" fill="#111" stroke="#111" stroke-width="0.3" textLength="15.32" lengthAdjust="spacingAndGlyphs">21.5</text>
<text x="0" y="0" font-family='"Liberation Serif", serif' font-size="13" font-weight="normal" text-anchor="middle" fill="#111" textLength="59.3" lengthAdjust="spacingAndGlyphs" transform="translate(382 87) rotate(-90) scale(1 0.67)">Power (W)</text>
<text x="540.3" y="177.5" font-family='"Liberation Serif", serif' font-size="14" font-weight="normal" text-anchor="middle" fill="#111" textLength="54.92" lengthAdjust="spacingAndGlyphs">Voltage (V) (c)</text>
<rect x="398.9" y="2.7" width="102.5" height="21.7" fill="#fff" stroke="#000" stroke-width="1.4"/>
<line x1="399.5" y1="25" x2="502.2" y2="25" stroke="#000" stroke-width="1.6" stroke-linecap="butt"/>
<line x1="501.9" y1="3.2" x2="501.9" y2="25.5" stroke="#000" stroke-width="1.3" stroke-linecap="butt"/>
<line x1="403" y1="12.5" x2="427.1" y2="12.5" stroke="#000" stroke-width="1.7" stroke-linecap="butt"/>
<text x="430.7" y="17.6" font-family='"Liberation Sans", sans-serif' font-size="12.5" font-weight="normal" text-anchor="start" fill="#111" stroke="#111" stroke-width="0.25" textLength="17.4" lengthAdjust="spacingAndGlyphs">35°C</text>
<line x1="453.1" y1="12.5" x2="477.7" y2="12.5" stroke="#0000ff" stroke-width="1.9" stroke-linecap="butt"/>
<text x="480.9" y="17.6" font-family='"Liberation Sans", sans-serif' font-size="12.5" font-weight="normal" text-anchor="start" fill="#111" stroke="#111" stroke-width="0.25" textLength="17.4" lengthAdjust="spacingAndGlyphs">45°C</text>
<rect x="556.5" y="-0.5" width="30" height="31.9" fill="#ffffea" stroke="#cdcdcd" stroke-width="1.1"/>
<text x="559.3" y="9.75" font-family='"Liberation Sans", sans-serif' font-size="10.3" font-weight="normal" text-anchor="start" fill="#1a1a1a" stroke="#1a1a1a" stroke-width="0.05" textLength="25.59" lengthAdjust="spacingAndGlyphs">X: 19.59</text>
<text x="559.3" y="23.25" font-family='"Liberation Sans", sans-serif' font-size="10.3" font-weight="normal" text-anchor="start" fill="#1a1a1a" stroke="#1a1a1a" stroke-width="0.05" textLength="25.21" lengthAdjust="spacingAndGlyphs">Y: 60.39</text>
<rect x="477.7" y="63.1" width="31.1" height="36" fill="#ffffea" stroke="#cdcdcd" stroke-width="1.1"/>
<text x="480.5" y="77.65" font-family='"Liberation Sans", sans-serif' font-size="10.3" font-weight="normal" text-anchor="start" fill="#1a1a1a" stroke="#1a1a1a" stroke-width="0.05" textLength="25.59" lengthAdjust="spacingAndGlyphs">X: 18.97</text>
<text x="480.5" y="91.15" font-family='"Liberation Sans", sans-serif' font-size="10.3" font-weight="normal" text-anchor="start" fill="#1a1a1a" stroke="#1a1a1a" stroke-width="0.05" textLength="25.21" lengthAdjust="spacingAndGlyphs">Y: 58.57</text>
<rect x="510.9" y="68.2" width="31.1" height="35.5" fill="#ffffea" stroke="#cdcdcd" stroke-width="1.1"/>
<text x="513.7" y="82.45" font-family='"Liberation Sans", sans-serif' font-size="10.3" font-weight="normal" text-anchor="start" fill="#1a1a1a" stroke="#1a1a1a" stroke-width="0.05" textLength="25.59" lengthAdjust="spacingAndGlyphs">X: 19.49</text>
<text x="513.7" y="95.55" font-family='"Liberation Sans", sans-serif' font-size="10.3" font-weight="normal" text-anchor="start" fill="#1a1a1a" stroke="#1a1a1a" stroke-width="0.05" textLength="24.7" lengthAdjust="spacingAndGlyphs">Y: 58.11</text>
<rect x="569" y="78" width="31.2" height="35.2" fill="#ffffea" stroke="#cdcdcd" stroke-width="1.1"/>
<text x="571.8" y="91.75" font-family='"Liberation Sans", sans-serif' font-size="10.3" font-weight="normal" text-anchor="start" fill="#1a1a1a" stroke="#1a1a1a" stroke-width="0.05" textLength="25.59" lengthAdjust="spacingAndGlyphs">X: 19.79</text>
<text x="571.8" y="104.75" font-family='"Liberation Sans", sans-serif' font-size="10.3" font-weight="normal" text-anchor="start" fill="#1a1a1a" stroke="#1a1a1a" stroke-width="0.05" textLength="25.21" lengthAdjust="spacingAndGlyphs">Y: 57.37</text>
<line x1="552" y1="40" x2="549.5" y2="50" stroke="#000" stroke-width="2" stroke-linecap="butt"/>
<path d="M546.6,60 L546.45,47.53 L549.26,50.15 L553.01,49.3 Z" fill="#000"/>
<polyline points="548,62 556.5,59.1 560,64" fill="none" stroke="#000" stroke-width="2" stroke-linejoin="miter"/>
<path d="M565,71.5 L555.41,63.52 L559.23,63.09 L561.02,59.68 Z" fill="#000"/>
<polyline points="563,74.5 541,70.8 535.5,66" fill="none" stroke="#000" stroke-width="2" stroke-linejoin="miter"/>
<path d="M531.2,61.5 L541.52,66.61 L537.98,67.94 L536.84,71.54 Z" fill="#000"/>
<polyline points="528.1,61.8 524.3,66.8 521,64" fill="none" stroke="#000" stroke-width="2" stroke-linejoin="miter"/>
<path d="M515.8,59.4 L526.33,64.06 L522.85,65.54 L521.86,69.19 Z" fill="#000"/>
<rect x="549" y="31.7" width="7" height="9.4" fill="#f7f4cc" stroke="none" stroke-width="1"/>
<rect x="550.1" y="32.8" width="4.8" height="7.2" fill="#000" stroke="none" stroke-width="1"/>
<rect x="542.2" y="58.5" width="7" height="9.4" fill="#f7f4cc" stroke="none" stroke-width="1"/>
<rect x="543.3" y="59.6" width="4.8" height="7.2" fill="#000" stroke="none" stroke-width="1"/>
<rect x="561.7" y="67.2" width="7" height="9.4" fill="#f7f4cc" stroke="none" stroke-width="1"/>
<rect x="562.8" y="68.3" width="4.8" height="7.2" fill="#000" stroke="none" stroke-width="1"/>
<rect x="509.7" y="53.7" width="7" height="9.4" fill="#f7f4cc" stroke="none" stroke-width="1"/>
<rect x="510.8" y="54.8" width="4.8" height="7.2" fill="#000" stroke="none" stroke-width="1"/>
<text x="542.9" y="9.6" font-family='"Liberation Serif", serif' font-size="13" font-weight="bold" text-anchor="middle" fill="#111" textLength="19.7" lengthAdjust="spacingAndGlyphs">A&amp;C</text>
<text x="544.5" y="25.8" font-family='"Liberation Serif", serif' font-size="13" font-weight="bold" text-anchor="middle" fill="#111" textLength="23" lengthAdjust="spacingAndGlyphs">(MPP)</text>
<text x="520" y="52.6" font-family='"Liberation Serif", serif' font-size="13" font-weight="bold" text-anchor="middle" fill="#111" textLength="31" lengthAdjust="spacingAndGlyphs">D (MPP)</text>
<text x="541.1" y="57.2" font-family='"Liberation Serif", serif' font-size="13" font-weight="normal" text-anchor="middle" fill="#111" stroke="#111" stroke-width="0.35" textLength="5.2" lengthAdjust="spacingAndGlyphs">B</text>
<text x="571.2" y="72.9" font-family='"Liberation Serif", serif' font-size="13" font-weight="normal" text-anchor="middle" fill="#111" stroke="#111" stroke-width="0.35" textLength="5.3" lengthAdjust="spacingAndGlyphs">C</text>
<line x1="399.7" y1="205.5" x2="525.6" y2="205.5" stroke="#000" stroke-width="1.3" stroke-dasharray="3.1,3.6" stroke-linecap="butt"/>
<line x1="399.7" y1="279.5" x2="525.6" y2="279.5" stroke="#000" stroke-width="1.3" stroke-dasharray="3.1,3.6" stroke-linecap="butt"/>
<line x1="412.5" y1="198.1" x2="412.5" y2="316" stroke="#444" stroke-width="1" stroke-dasharray="5.2,4.9" stroke-linecap="butt"/>
<line x1="424.5" y1="198.1" x2="424.5" y2="316" stroke="#444" stroke-width="1" stroke-dasharray="5.2,4.9" stroke-linecap="butt"/>
<line x1="437.5" y1="198.1" x2="437.5" y2="316" stroke="#444" stroke-width="1" stroke-dasharray="5.2,4.9" stroke-linecap="butt"/>
<line x1="450.5" y1="198.1" x2="450.5" y2="316" stroke="#444" stroke-width="1" stroke-dasharray="5.2,4.9" stroke-linecap="butt"/>
<line x1="462.5" y1="198.1" x2="462.5" y2="316" stroke="#444" stroke-width="1" stroke-dasharray="5.2,4.9" stroke-linecap="butt"/>
<line x1="475.5" y1="198.1" x2="475.5" y2="316" stroke="#444" stroke-width="1" stroke-dasharray="5.2,4.9" stroke-linecap="butt"/>
<line x1="487.5" y1="198.1" x2="487.5" y2="316" stroke="#444" stroke-width="1" stroke-dasharray="5.2,4.9" stroke-linecap="butt"/>
<line x1="500.5" y1="198.1" x2="500.5" y2="316" stroke="#444" stroke-width="1" stroke-dasharray="5.2,4.9" stroke-linecap="butt"/>
<line x1="513.5" y1="198.1" x2="513.5" y2="316" stroke="#444" stroke-width="1" stroke-dasharray="5.2,4.9" stroke-linecap="butt"/>
<line x1="399.7" y1="242.3" x2="525.6" y2="242.3" stroke="#0000ff" stroke-width="1.9" stroke-linecap="butt"/>
<line x1="462.9" y1="242" x2="462.9" y2="247.5" stroke="#0000ff" stroke-width="1.3" stroke-linecap="butt"/>
<rect x="399.5" y="198.5" width="126" height="118" fill="none" stroke="#000" stroke-width="1.4"/>
<text x="397.5" y="209.99" font-family='"Liberation Sans", sans-serif' font-size="11.8" font-weight="normal" text-anchor="end" fill="#111" stroke="#111" stroke-width="0.3" textLength="15.32" lengthAdjust="spacingAndGlyphs">0.05</text>
<text x="397.5" y="245.89" font-family='"Liberation Sans", sans-serif' font-size="11.8" font-weight="normal" text-anchor="end" fill="#111" stroke="#111" stroke-width="0.3" textLength="7" lengthAdjust="spacingAndGlyphs">-0</text>
<text x="397.5" y="283.19" font-family='"Liberation Sans", sans-serif' font-size="11.8" font-weight="normal" text-anchor="end" fill="#111" stroke="#111" stroke-width="0.3" textLength="17.94" lengthAdjust="spacingAndGlyphs">-0,05</text>
<text x="397.5" y="319.19" font-family='"Liberation Sans", sans-serif' font-size="11.8" font-weight="normal" text-anchor="end" fill="#111" stroke="#111" stroke-width="0.3" textLength="13.56" lengthAdjust="spacingAndGlyphs">-0,1</text>
<text x="399.7" y="331.19" font-family='"Liberation Sans", sans-serif' font-size="11.8" font-weight="normal" text-anchor="middle" fill="#111" stroke="#111" stroke-width="0.3" textLength="4.38" lengthAdjust="spacingAndGlyphs">0</text>
<text x="412.3" y="331.19" font-family='"Liberation Sans", sans-serif' font-size="11.8" font-weight="normal" text-anchor="middle" fill="#111" stroke="#111" stroke-width="0.3" textLength="4.38" lengthAdjust="spacingAndGlyphs">1</text>
<text x="424.9" y="331.19" font-family='"Liberation Sans", sans-serif' font-size="11.8" font-weight="normal" text-anchor="middle" fill="#111" stroke="#111" stroke-width="0.3" textLength="4.38" lengthAdjust="spacingAndGlyphs">2</text>
<text x="437.5" y="331.19" font-family='"Liberation Sans", sans-serif' font-size="11.8" font-weight="normal" text-anchor="middle" fill="#111" stroke="#111" stroke-width="0.3" textLength="4.38" lengthAdjust="spacingAndGlyphs">3</text>
<text x="450.1" y="331.19" font-family='"Liberation Sans", sans-serif' font-size="11.8" font-weight="normal" text-anchor="middle" fill="#111" stroke="#111" stroke-width="0.3" textLength="4.38" lengthAdjust="spacingAndGlyphs">4</text>
<text x="462.7" y="331.19" font-family='"Liberation Sans", sans-serif' font-size="11.8" font-weight="normal" text-anchor="middle" fill="#111" stroke="#111" stroke-width="0.3" textLength="4.38" lengthAdjust="spacingAndGlyphs">5</text>
<text x="475.3" y="331.19" font-family='"Liberation Sans", sans-serif' font-size="11.8" font-weight="normal" text-anchor="middle" fill="#111" stroke="#111" stroke-width="0.3" textLength="4.38" lengthAdjust="spacingAndGlyphs">6</text>
<text x="487.9" y="331.19" font-family='"Liberation Sans", sans-serif' font-size="11.8" font-weight="normal" text-anchor="middle" fill="#111" stroke="#111" stroke-width="0.3" textLength="4.38" lengthAdjust="spacingAndGlyphs">7</text>
<text x="500.5" y="331.19" font-family='"Liberation Sans", sans-serif' font-size="11.8" font-weight="normal" text-anchor="middle" fill="#111" stroke="#111" stroke-width="0.3" textLength="4.38" lengthAdjust="spacingAndGlyphs">8</text>
<text x="513.1" y="331.19" font-family='"Liberation Sans", sans-serif' font-size="11.8" font-weight="normal" text-anchor="middle" fill="#111" stroke="#111" stroke-width="0.3" textLength="4.38" lengthAdjust="spacingAndGlyphs">9</text>
<text x="525.7" y="331.19" font-family='"Liberation Sans", sans-serif' font-size="11.8" font-weight="normal" text-anchor="middle" fill="#111" stroke="#111" stroke-width="0.3" textLength="8.75" lengthAdjust="spacingAndGlyphs">10</text>
<text x="0" y="0" font-family='"Liberation Serif", serif' font-size="13" font-weight="normal" text-anchor="middle" fill="#111" textLength="115.5" lengthAdjust="spacingAndGlyphs" transform="translate(372.6 257.3) rotate(-90) scale(1 0.7)">Step size perturbation</text>
<text x="462" y="348.5" font-family='"Liberation Serif", serif' font-size="14" font-weight="normal" text-anchor="middle" fill="#111" textLength="43.65" lengthAdjust="spacingAndGlyphs">Time (s) (d)</text>
<rect x="458.3" y="232.3" width="9.2" height="24.4" fill="none" stroke="#000" stroke-width="1.5" stroke-dasharray="3.4,2.0"/>
<line x1="462.7" y1="286" x2="462.7" y2="270" stroke="#000" stroke-width="1.4" stroke-linecap="butt"/>
<path d="M462.7,258.6 L466.7,275.6 L462.7,270.5 L458.7,275.6 Z" fill="#000"/>
<text x="462.5" y="297.5" font-family='"Liberation Serif", serif' font-size="12" font-weight="bold" text-anchor="middle" fill="#111" textLength="5" lengthAdjust="spacingAndGlyphs">3</text>
<line x1="554.2" y1="230.5" x2="683.4" y2="230.5" stroke="#000" stroke-width="1.3" stroke-dasharray="3.1,3.6" stroke-linecap="butt"/>
<line x1="554.2" y1="255.5" x2="683.4" y2="255.5" stroke="#000" stroke-width="1.3" stroke-dasharray="3.1,3.6" stroke-linecap="butt"/>
<line x1="554.2" y1="280.5" x2="683.4" y2="280.5" stroke="#000" stroke-width="1.3" stroke-dasharray="3.1,3.6" stroke-linecap="butt"/>
<line x1="554.2" y1="304.5" x2="683.4" y2="304.5" stroke="#000" stroke-width="1.3" stroke-dasharray="3.1,3.6" stroke-linecap="butt"/>
<line x1="574.5" y1="197.8" x2="574.5" y2="316" stroke="#000" stroke-width="1.1" stroke-dasharray="5.2,4.9" stroke-linecap="butt"/>
<line x1="631.5" y1="197.8" x2="631.5" y2="316" stroke="#000" stroke-width="1.1" stroke-dasharray="5.2,4.9" stroke-linecap="butt"/>
<line x1="659.5" y1="197.8" x2="659.5" y2="316" stroke="#000" stroke-width="1.1" stroke-dasharray="5.2,4.9" stroke-linecap="butt"/>
<line x1="554.2" y1="206" x2="683.4" y2="206" stroke="#0000ff" stroke-width="1.9" stroke-linecap="butt"/>
<line x1="602.8" y1="206" x2="602.8" y2="287.5" stroke="#0000ff" stroke-width="1.9" stroke-linecap="butt"/>
<rect x="554.5" y="197.5" width="129" height="119" fill="none" stroke="#000" stroke-width="1.4"/>
<text x="551.6" y="208.89" font-family='"Liberation Sans", sans-serif' font-size="11.8" font-weight="normal" text-anchor="end" fill="#111" stroke="#111" stroke-width="0.3" textLength="4.38" lengthAdjust="spacingAndGlyphs">0</text>
<text x="551.6" y="234.39" font-family='"Liberation Sans", sans-serif' font-size="11.8" font-weight="normal" text-anchor="end" fill="#111" stroke="#111" stroke-width="0.3" textLength="7" lengthAdjust="spacingAndGlyphs">-2</text>
<text x="551.6" y="259.19" font-family='"Liberation Sans", sans-serif' font-size="11.8" font-weight="normal" text-anchor="end" fill="#111" stroke="#111" stroke-width="0.3" textLength="7" lengthAdjust="spacingAndGlyphs">-4</text>
<text x="551.6" y="284.69" font-family='"Liberation Sans", sans-serif' font-size="11.8" font-weight="normal" text-anchor="end" fill="#111" stroke="#111" stroke-width="0.3" textLength="7" lengthAdjust="spacingAndGlyphs">-6</text>
<text x="551.6" y="309.89" font-family='"Liberation Sans", sans-serif' font-size="11.8" font-weight="normal" text-anchor="end" fill="#111" stroke="#111" stroke-width="0.3" textLength="7" lengthAdjust="spacingAndGlyphs">-8</text>
<text x="574.35" y="331.49" font-family='"Liberation Sans", sans-serif' font-size="11.8" font-weight="normal" text-anchor="middle" fill="#111" stroke="#111" stroke-width="0.3" textLength="10.94" lengthAdjust="spacingAndGlyphs">4.9</text>
<text x="602.8" y="331.49" font-family='"Liberation Sans", sans-serif' font-size="11.8" font-weight="normal" text-anchor="middle" fill="#111" stroke="#111" stroke-width="0.3" textLength="4.38" lengthAdjust="spacingAndGlyphs">5</text>
<text x="631.25" y="331.49" font-family='"Liberation Sans", sans-serif' font-size="11.8" font-weight="normal" text-anchor="middle" fill="#111" stroke="#111" stroke-width="0.3" textLength="10.94" lengthAdjust="spacingAndGlyphs">5.1</text>
<text x="659.7" y="331.49" font-family='"Liberation Sans", sans-serif' font-size="11.8" font-weight="normal" text-anchor="middle" fill="#111" stroke="#111" stroke-width="0.3" textLength="10.94" lengthAdjust="spacingAndGlyphs">5.2</text>
<text x="0" y="0" font-family='"Liberation Serif", serif' font-size="13" font-weight="normal" text-anchor="middle" fill="#111" textLength="116.5" lengthAdjust="spacingAndGlyphs" transform="translate(539 257.7) rotate(-90) scale(1 0.67)">Step size perturbation</text>
<text x="617.5" y="348.5" font-family='"Liberation Serif", serif' font-size="14" font-weight="normal" text-anchor="middle" fill="#111" textLength="48.2" lengthAdjust="spacingAndGlyphs">Time (s) (d1)</text>
<rect x="606.1" y="252.1" width="44.4" height="34.3" fill="#ffffea" stroke="#cdcdcd" stroke-width="1.1"/>
<text x="608.9" y="266.25" font-family='"Liberation Sans", sans-serif' font-size="10.3" font-weight="normal" text-anchor="start" fill="#1a1a1a" stroke="#1a1a1a" stroke-width="0.05" textLength="25.59" lengthAdjust="spacingAndGlyphs">X: 5.001</text>
<text x="608.9" y="279.75" font-family='"Liberation Sans", sans-serif' font-size="10.3" font-weight="normal" text-anchor="start" fill="#1a1a1a" stroke="#1a1a1a" stroke-width="0.05" textLength="38.96" lengthAdjust="spacingAndGlyphs">Y: -0.006993</text>
<rect x="599.1" y="288.3" width="7" height="9.4" fill="#f7f4cc" stroke="none" stroke-width="1"/>
<rect x="600.2" y="289.4" width="4.8" height="7.2" fill="#000" stroke="none" stroke-width="1"/>
<text x="648.3" y="300.8" font-family='"Liberation Serif", serif' font-size="14" font-weight="normal" text-anchor="start" fill="#111" textLength="27.4" lengthAdjust="spacingAndGlyphs">Zoom 3</text>
<text x="554.6" y="191.8" font-family='"Liberation Sans", sans-serif' font-size="11.5" font-weight="normal" text-anchor="start" fill="#111" textLength="14.9" lengthAdjust="spacingAndGlyphs">x 10</text>
<text x="569.9" y="183.8" font-family='"Liberation Sans", sans-serif' font-size="7.5" font-weight="normal" text-anchor="start" fill="#111" textLength="5.2" lengthAdjust="spacingAndGlyphs">-3</text>
<line x1="565.9" y1="350" x2="595" y2="284.5" stroke="#000" stroke-width="1.5" stroke-linecap="butt"/>
<path d="M599.7,274 L598.3,286.51 L596.29,281.68 L591.35,283.42 Z" fill="#000"/>
<text x="466.1" y="363" font-family='"Liberation Serif", serif' font-size="14" font-weight="normal" text-anchor="start" fill="#111" textLength="96.9" lengthAdjust="spacingAndGlyphs">Large step size perturbation</text>
<line x1="400.4" y1="470.5" x2="684.3" y2="470.5" stroke="#000" stroke-width="1.3" stroke-dasharray="3.1,3.6" stroke-linecap="butt"/>
<line x1="400.4" y1="435.5" x2="684.3" y2="435.5" stroke="#000" stroke-width="1.3" stroke-dasharray="3.1,3.6" stroke-linecap="butt"/>
<line x1="400.4" y1="399.5" x2="684.3" y2="399.5" stroke="#000" stroke-width="1.3" stroke-dasharray="3.1,3.6" stroke-linecap="butt"/>
<line x1="403.5" y1="369.3" x2="403.5" y2="486.2" stroke="#000" stroke-width="1.1" stroke-dasharray="5.2,4.9" stroke-linecap="butt"/>
<line x1="447.5" y1="369.3" x2="447.5" y2="486.2" stroke="#000" stroke-width="1.1" stroke-dasharray="5.2,4.9" stroke-linecap="butt"/>
<line x1="491.5" y1="369.3" x2="491.5" y2="486.2" stroke="#000" stroke-width="1.1" stroke-dasharray="5.2,4.9" stroke-linecap="butt"/>
<line x1="535.5" y1="369.3" x2="535.5" y2="486.2" stroke="#000" stroke-width="1.1" stroke-dasharray="5.2,4.9" stroke-linecap="butt"/>
<line x1="580.5" y1="369.3" x2="580.5" y2="486.2" stroke="#000" stroke-width="1.1" stroke-dasharray="5.2,4.9" stroke-linecap="butt"/>
<line x1="624.5" y1="369.3" x2="624.5" y2="486.2" stroke="#000" stroke-width="1.1" stroke-dasharray="5.2,4.9" stroke-linecap="butt"/>
<line x1="668.5" y1="369.3" x2="668.5" y2="486.2" stroke="#000" stroke-width="1.1" stroke-dasharray="5.2,4.9" stroke-linecap="butt"/>
<polyline points="407.8,424 407.8,470.5" fill="none" stroke="#0000ff" stroke-width="1.9" stroke-linejoin="round"/>
<polyline points="410.5,474.5 413,474.5 413,470 418.6,470 418.6,462.08 424.2,462.08 424.2,455.02 429.8,455.02 429.8,448.7 435.4,448.7 435.4,443.07 441,443.07 441,438.03 446.6,438.03 446.6,433.54 452.2,433.54 452.2,429.52 457.8,429.52 457.8,425.93 463.4,425.93 463.4,422.73 469,422.73 469,419.87 474.6,419.87 474.6,417.32 480.2,417.32 480.2,415.04 485.8,415.04 485.8,413 491.4,413 491.4,411.18 497,411.18 497,409.56 502.6,409.56 502.6,408.11 508.2,408.11 508.2,406.81 513.8,406.81 513.8,405.66 519.4,405.66 519.4,404.62 525,404.62 525,403.7 530.6,403.7 530.6,402.88 536.2,402.88 536.2,402.14 541.8,402.14 541.8,401.49 547.4,401.49 547.4,400.9 553,400.9 553,400.37 558.6,400.37 558.6,399.91 564.2,399.91 565,399.43 569,399.17 573,398.92 577,398.69 581,398.48 585,398.29 589,398.11 593,397.95 597,397.8 601,397.66 605,397.53 609,397.41 613,397.3 617,397.2 621,397.11 625,397.02 629,396.94 633,396.87 637,396.8 641,396.74 645,396.68 649,396.63 653,396.58 657,396.54 661,396.49 665,396.46 669,396.42 673,396.39 677,396.36 681,396.33 685,396.3" fill="none" stroke="#0000ff" stroke-width="1.9" stroke-linejoin="miter"/>
<line x1="400.4" y1="369.3" x2="685" y2="369.3" stroke="#000" stroke-width="1.4" stroke-linecap="butt"/>
<line x1="400.4" y1="486.2" x2="685" y2="486.2" stroke="#000" stroke-width="1.4" stroke-linecap="butt"/>
<line x1="400.4" y1="368.6" x2="400.4" y2="486.9" stroke="#000" stroke-width="1.4" stroke-linecap="butt"/>
<line x1="684.3" y1="369.3" x2="684.3" y2="486.2" stroke="#000" stroke-width="1" stroke-linecap="butt"/>
<text x="398" y="474.19" font-family='"Liberation Sans", sans-serif' font-size="11.8" font-weight="normal" text-anchor="end" fill="#111" stroke="#111" stroke-width="0.3" textLength="15.32" lengthAdjust="spacingAndGlyphs">0.55</text>
<text x="398" y="439.19" font-family='"Liberation Sans", sans-serif' font-size="11.8" font-weight="normal" text-anchor="end" fill="#111" stroke="#111" stroke-width="0.3" textLength="19.7" lengthAdjust="spacingAndGlyphs">0.555</text>
<text x="398" y="404.19" font-family='"Liberation Sans", sans-serif' font-size="11.8" font-weight="normal" text-anchor="end" fill="#111" stroke="#111" stroke-width="0.3" textLength="15.32" lengthAdjust="spacingAndGlyphs">0.56</text>
<text x="403.3" y="500.79" font-family='"Liberation Sans", sans-serif' font-size="11.8" font-weight="normal" text-anchor="middle" fill="#111" stroke="#111" stroke-width="0.3" textLength="4.38" lengthAdjust="spacingAndGlyphs">5</text>
<text x="447.5" y="500.79" font-family='"Liberation Sans", sans-serif' font-size="11.8" font-weight="normal" text-anchor="middle" fill="#111" stroke="#111" stroke-width="0.3" textLength="15.32" lengthAdjust="spacingAndGlyphs">5.01</text>
<text x="491.7" y="500.79" font-family='"Liberation Sans", sans-serif' font-size="11.8" font-weight="normal" text-anchor="middle" fill="#111" stroke="#111" stroke-width="0.3" textLength="15.32" lengthAdjust="spacingAndGlyphs">5.02</text>
<text x="535.9" y="500.79" font-family='"Liberation Sans", sans-serif' font-size="11.8" font-weight="normal" text-anchor="middle" fill="#111" stroke="#111" stroke-width="0.3" textLength="15.32" lengthAdjust="spacingAndGlyphs">5.03</text>
<text x="580.1" y="500.79" font-family='"Liberation Sans", sans-serif' font-size="11.8" font-weight="normal" text-anchor="middle" fill="#111" stroke="#111" stroke-width="0.3" textLength="15.32" lengthAdjust="spacingAndGlyphs">5.04</text>
<text x="624.3" y="500.79" font-family='"Liberation Sans", sans-serif' font-size="11.8" font-weight="normal" text-anchor="middle" fill="#111" stroke="#111" stroke-width="0.3" textLength="15.32" lengthAdjust="spacingAndGlyphs">5.05</text>
<text x="668.5" y="500.79" font-family='"Liberation Sans", sans-serif' font-size="11.8" font-weight="normal" text-anchor="middle" fill="#111" stroke="#111" stroke-width="0.3" textLength="15.32" lengthAdjust="spacingAndGlyphs">5.06</text>
<text x="0" y="0" font-family='"Liberation Serif", serif' font-size="13" font-weight="normal" text-anchor="middle" fill="#111" textLength="58.5" lengthAdjust="spacingAndGlyphs" transform="translate(370.9 428.7) rotate(-90) scale(1 0.7)">Duty cycle</text>
<text x="541.5" y="518" font-family='"Liberation Serif", serif' font-size="14" font-weight="normal" text-anchor="middle" fill="#111" textLength="43.14" lengthAdjust="spacingAndGlyphs">Time (s) (e)</text>
<rect x="399.8" y="420.4" width="7" height="9.4" fill="#f7f4cc" stroke="none" stroke-width="1"/>
<rect x="400.9" y="421.5" width="4.8" height="7.2" fill="#000" stroke="none" stroke-width="1"/>
<rect x="404.2" y="469.5" width="7" height="9.4" fill="#f7f4cc" stroke="none" stroke-width="1"/>
<rect x="405.3" y="470.6" width="4.8" height="7.2" fill="#000" stroke="none" stroke-width="1"/>
<rect x="407.5" y="384.5" width="39.7" height="34.3" fill="#ffffea" stroke="#cdcdcd" stroke-width="1.1"/>
<text x="410.3" y="398.95" font-family='"Liberation Sans", sans-serif' font-size="10.3" font-weight="normal" text-anchor="start" fill="#1a1a1a" stroke="#1a1a1a" stroke-width="0.05" textLength="14.32" lengthAdjust="spacingAndGlyphs">X= 5</text>
<text x="410.3" y="412.55" font-family='"Liberation Sans", sans-serif' font-size="10.3" font-weight="normal" text-anchor="start" fill="#1a1a1a" stroke="#1a1a1a" stroke-width="0.05" textLength="35.34" lengthAdjust="spacingAndGlyphs">Y= 0.55644</text>
<rect x="363.5" y="479.7" width="40" height="34.2" fill="#ffffea" stroke="#cdcdcd" stroke-width="1.1"/>
<text x="366.3" y="493.35" font-family='"Liberation Sans", sans-serif' font-size="10.3" font-weight="normal" text-anchor="start" fill="#1a1a1a" stroke="#1a1a1a" stroke-width="0.05" textLength="27.7" lengthAdjust="spacingAndGlyphs">X= 5.001</text>
<text x="366.3" y="506.55" font-family='"Liberation Sans", sans-serif' font-size="10.3" font-weight="normal" text-anchor="start" fill="#1a1a1a" stroke="#1a1a1a" stroke-width="0.05" textLength="35.34" lengthAdjust="spacingAndGlyphs">Y= 0.54945</text>
</svg></body></html>
